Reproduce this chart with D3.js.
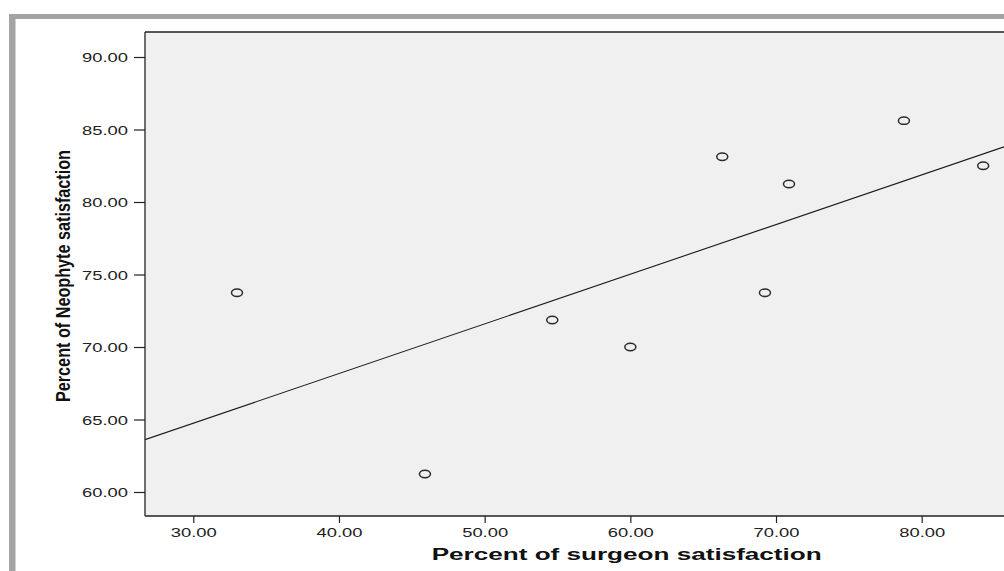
<!DOCTYPE html>
<html>
<head>
<meta charset="utf-8">
<script src="https://cdn.jsdelivr.net/npm/d3@7"></script>
<style>
  html, body { margin: 0; padding: 0; background: #ffffff; }
  svg { display: block; }
</style>
</head>
<body>
<script>
// ---- data ----
const surgeonPct = [33.0, 45.9, 54.64, 60.0, 66.31, 69.24, 70.89, 78.78, 84.22];
const neophytePct = [73.74, 61.24, 71.86, 70.0, 83.12, 73.74, 81.24, 85.61, 82.5];
const xTicks = [30, 40, 50, 60, 70, 80];
const yTicks = [60, 65, 70, 75, 80, 85, 90];
const xTitle = "Percent of surgeon satisfaction";
const yTitle = "Percent of Neophyte satisfaction";

const W = 1004, H = 571;
const plot = { left: 145, top: 32, right: 1004, bottom: 516 };

const svg = d3.select("body").append("svg").attr("width", W).attr("height", H);

// outer grey frame
svg.append("rect").attr("x", 9).attr("y", 14).attr("width", W - 9).attr("height", 5).attr("fill", "#a3a3a3");
svg.append("rect").attr("x", 9).attr("y", 14).attr("width", 6.5).attr("height", H - 14).attr("fill", "#a3a3a3");

// scales
const x = d3.scaleLinear().domain([30, 80]).range([193.3, 921.7]);
const y = d3.scaleLinear().domain([60, 90]).range([492, 57]);

// plot background
svg.append("rect")
  .attr("x", plot.left).attr("y", plot.top)
  .attr("width", plot.right - plot.left).attr("height", plot.bottom - plot.top)
  .attr("fill", "#f0f0f0");

svg.append("clipPath").attr("id", "clip").append("rect")
  .attr("x", plot.left).attr("y", plot.top)
  .attr("width", plot.right - plot.left).attr("height", plot.bottom - plot.top);

// regression line (least squares from data)
const mx = d3.mean(surgeonPct), my = d3.mean(neophytePct);
let sxy = 0, sxx = 0;
surgeonPct.forEach((v, i) => { sxy += (v - mx) * (neophytePct[i] - my); sxx += (v - mx) * (v - mx); });
const slope = sxy / sxx, intercept = my - slope * mx;
const x0 = x.invert(plot.left), x1 = x.invert(plot.right);
svg.append("line")
  .attr("clip-path", "url(#clip)")
  .attr("x1", x(x0)).attr("y1", y(intercept + slope * x0))
  .attr("x2", x(x1)).attr("y2", y(intercept + slope * x1))
  .attr("stroke", "#1a1a1a").attr("stroke-width", 1.1);

// points
svg.append("g").selectAll("ellipse")
  .data(surgeonPct.map((v, i) => [v, neophytePct[i]]))
  .join("ellipse")
  .attr("cx", d => x(d[0])).attr("cy", d => y(d[1]))
  .attr("rx", 5.5).attr("ry", 3.7)
  .attr("fill", "none").attr("stroke", "#2a2a2a").attr("stroke-width", 1.5);

// plot frame lines (top, left, bottom)
const frame = svg.append("g").attr("stroke", "#222").attr("stroke-width", 1.3);
frame.append("line").attr("x1", plot.left).attr("x2", plot.right).attr("y1", plot.top).attr("y2", plot.top);
frame.append("line").attr("x1", plot.left).attr("x2", plot.right).attr("y1", plot.bottom).attr("y2", plot.bottom);
frame.append("line").attr("x1", plot.left).attr("x2", plot.left).attr("y1", plot.top).attr("y2", plot.bottom);

const tickFont = "'Liberation Sans', Arial, sans-serif";

// y axis
const yAxis = svg.append("g").attr("transform", `translate(${plot.left},0)`)
  .call(d3.axisLeft(y).tickValues(yTicks).tickSize(11).tickFormat(d => d.toFixed(2)));
yAxis.select(".domain").remove();
yAxis.selectAll(".tick line").attr("stroke", "#222").attr("stroke-width", 1.2);
yAxis.selectAll(".tick text")
  .attr("x", 0)
  .attr("transform", "translate(-17,0.8) scale(1.47,1)")
  .attr("font-family", tickFont).attr("font-size", "12.5px").attr("fill", "#222");

// x axis
const xAxis = svg.append("g").attr("transform", `translate(0,${plot.bottom})`)
  .call(d3.axisBottom(x).tickValues(xTicks).tickSize(7).tickFormat(d => d.toFixed(2)));
xAxis.select(".domain").remove();
xAxis.selectAll(".tick line").attr("stroke", "#222").attr("stroke-width", 1.2);
xAxis.selectAll(".tick text")
  .attr("y", 12)
  .attr("transform", "scale(1.47,1)")
  .attr("font-family", tickFont).attr("font-size", "12.5px").attr("fill", "#222");

// axis titles
svg.append("text")
  .attr("x", 626.7).attr("y", 559.5)
  .attr("text-anchor", "middle")
  .attr("textLength", 390).attr("lengthAdjust", "spacingAndGlyphs")
  .attr("font-family", "'Liberation Sans', Arial, sans-serif")
  .attr("font-weight", "bold").attr("font-size", "16px").attr("fill", "#111")
  .text(xTitle);

svg.append("text")
  .attr("transform", "translate(70,276) rotate(-90)")
  .attr("text-anchor", "middle")
  .attr("textLength", 252).attr("lengthAdjust", "spacingAndGlyphs")
  .attr("font-family", "'Liberation Sans Narrow', 'Arial Narrow', 'Liberation Sans', sans-serif")
  .attr("font-weight", "bold").attr("font-size", "20px").attr("fill", "#111")
  .text(yTitle);
</script>
</body>
</html>
